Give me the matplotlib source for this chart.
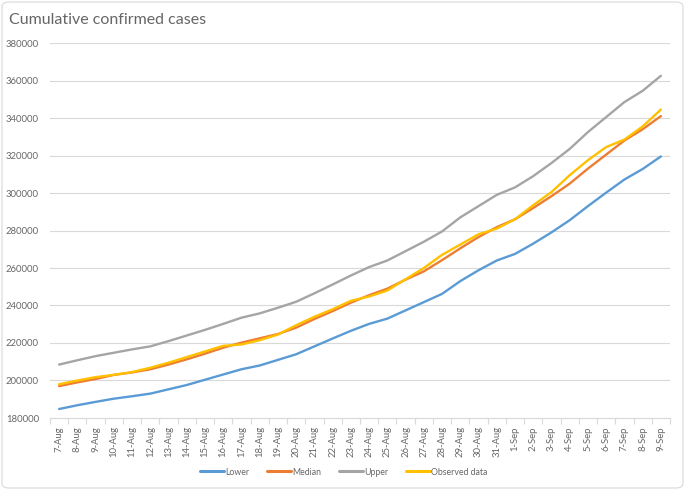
import matplotlib
matplotlib.use("Agg")
import matplotlib.pyplot as plt
from matplotlib.patches import FancyBboxPatch

dates = ["7-Aug", "8-Aug", "9-Aug", "10-Aug", "11-Aug", "12-Aug", "13-Aug", "14-Aug",
         "15-Aug", "16-Aug", "17-Aug", "18-Aug", "19-Aug", "20-Aug", "21-Aug", "22-Aug",
         "23-Aug", "24-Aug", "25-Aug", "26-Aug", "27-Aug", "28-Aug", "29-Aug", "30-Aug",
         "31-Aug", "1-Sep", "2-Sep", "3-Sep", "4-Sep", "5-Sep", "6-Sep", "7-Sep", "8-Sep", "9-Sep"]

lower = [184800, 186800, 188600, 190300, 191600, 193000, 195300, 197600, 200400, 203200,
         206000, 208000, 211000, 214000, 218200, 222400, 226500, 230200, 233000, 237400,
         241800, 246200, 253000, 258800, 264000, 267500, 273000, 279000, 285500, 293000,
         300200, 307200, 312800, 319500]
median = [197000, 199000, 200800, 203000, 204300, 206000, 208500, 211300, 214300, 217500,
          220200, 222500, 224800, 228200, 232800, 237000, 241500, 245500, 249000, 253800,
          258200, 264200, 270500, 276500, 281800, 286000, 292000, 298300, 305000, 313000,
          320500, 328000, 334000, 341000]
upper = [208500, 210800, 213000, 214800, 216600, 218200, 221000, 224000, 227000, 230200,
         233500, 235800, 238800, 242000, 246500, 251200, 256000, 260500, 264000, 269000,
         274000, 279500, 287000, 293000, 299000, 303000, 309000, 316000, 323500, 332500,
         340500, 348500, 354500, 362500]
observed = [198000, 200000, 201800, 203000, 204500, 206800, 209500, 212500, 215500, 218500,
            219200, 221500, 224500, 229500, 234000, 238000, 242500, 244800, 248000, 254000,
            260000, 267000, 272500, 278000, 281000, 286000, 293500, 300500, 309500, 317500,
            324500, 328500, 335500, 344500]

y_ticks = list(range(180000, 380001, 20000))

plt.rcParams['font.family'] = ['Lato', 'DejaVu Sans']
fig = plt.figure(figsize=(6.85, 4.9), dpi=100)
ax = fig.add_axes([50/685, 1-418/490, 620/685, 375/490])

x = list(range(len(dates)))
ax.plot(x, lower, color="#5B9BD5", lw=1.7, label="Lower", solid_capstyle="round")
ax.plot(x, median, color="#ED7D31", lw=1.7, label="Median", solid_capstyle="round")
ax.plot(x, upper, color="#A5A5A5", lw=1.7, label="Upper", solid_capstyle="round")
ax.plot(x, observed, color="#FFC000", lw=1.7, label="Observed data", solid_capstyle="round")

ax.set_xlim(-0.5, len(dates) - 0.5)
ax.set_ylim(180000, 380000)
ax.set_yticks(y_ticks)
ax.set_yticklabels([str(v) for v in y_ticks], fontsize=6.8, color="#666666")
ax.set_xticks(x)
ax.set_xticklabels(dates, rotation=90, fontsize=6.8, color="#666666")
ax.set_xticks([i - 0.5 for i in range(len(dates) + 1)], minor=True)
ax.tick_params(axis='x', which='major', length=0, pad=6)
ax.tick_params(axis='x', which='minor', length=4, color="#D9D9D9", width=0.8)
ax.tick_params(axis='y', length=0, pad=8)
ax.grid(axis='y', color="#D9D9D9", lw=0.8)
ax.set_axisbelow(True)
for s in ['top', 'right', 'left']:
    ax.spines[s].set_visible(False)
ax.spines['bottom'].set_color("#D9D9D9")
ax.spines['bottom'].set_linewidth(0.8)

fig.text(9/685, 1-20/490, "Cumulative confirmed cases", fontsize=11.5, color="#666666",
         ha="left", va="center")

leg = fig.legend(loc="center", bbox_to_anchor=(344/685, 1-472/490), ncol=4, frameon=False,
                 fontsize=6.3, handlelength=2.7, columnspacing=2.05, handletextpad=0.15,
                 borderpad=0, borderaxespad=0)
for t in leg.get_texts():
    t.set_color("#666666")
for l in leg.get_lines():
    l.set_linewidth(2.2)

border = FancyBboxPatch((2/685, 2/490), 681/685, 486/490, boxstyle="round,pad=0,rounding_size=0.01",
                        transform=fig.transFigure, fill=False, edgecolor="#D9D9D9", lw=0.8)
fig.patches.append(border)

fig.savefig("out.png", dpi=100)
